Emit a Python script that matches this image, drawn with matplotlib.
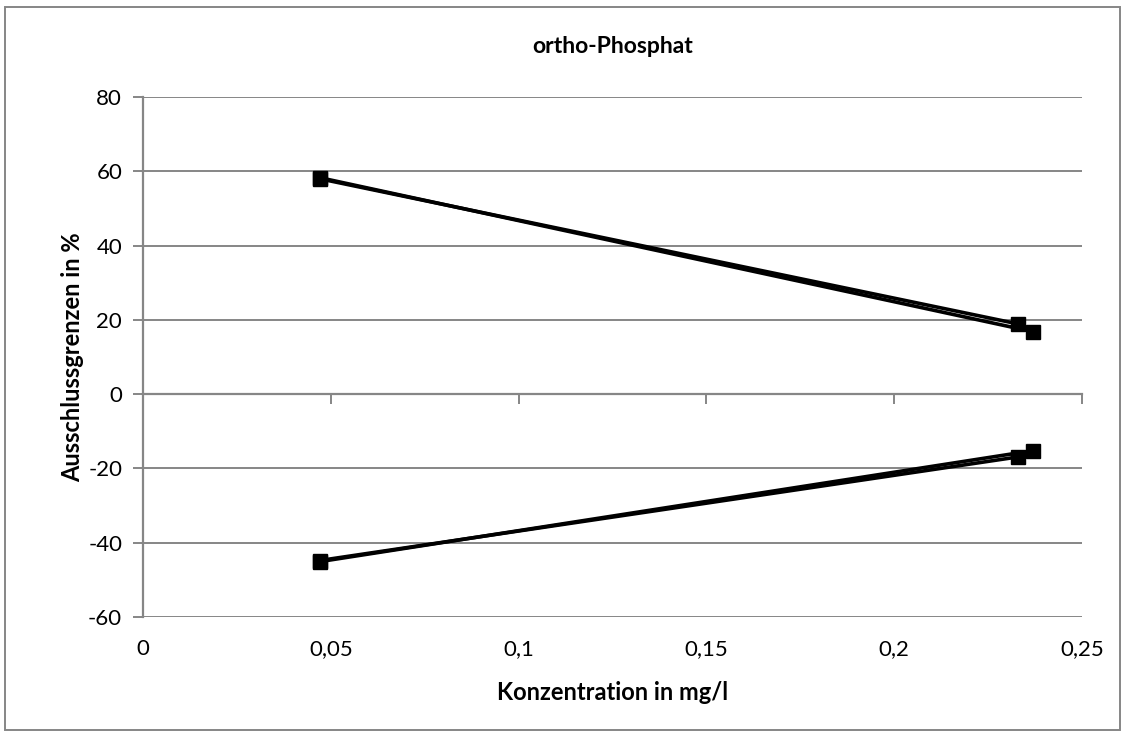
import matplotlib
matplotlib.use("Agg")
import matplotlib.pyplot as plt
from matplotlib.patches import Rectangle

plt.rcParams['font.family'] = ['Lato', 'DejaVu Sans']
plt.rcParams['axes.unicode_minus'] = False

# data: each series is one line with two points
conc_a = [0.047, 0.233]
upper_a = [58.0, 18.9]
conc_b = [0.047, 0.237]
upper_b = [58.3, 16.8]
lower_a = [-44.8, -16.9]
lower_b = [-45.1, -15.2]

x_ticks = [0, 0.05, 0.1, 0.15, 0.2, 0.25]
x_labels = ["0", "0,05", "0,1", "0,15", "0,2", "0,25"]
y_ticks = [-60, -40, -20, 0, 20, 40, 60, 80]

grey = "#868686"

fig = plt.figure(figsize=(11.25, 7.36), dpi=100)
ax = fig.add_axes([143 / 1125, 1 - 617 / 736, (1082 - 143) / 1125, (617 - 97) / 736])

for xs, ys in [(conc_a, upper_a), (conc_b, upper_b), (conc_a, lower_a), (conc_b, lower_b)]:
    ax.plot(xs, ys, color="black", lw=2.6, marker="s", ms=9.5, zorder=3)

ax.set_xlim(0, 0.25)
ax.set_ylim(-60, 80)
ax.set_yticks(y_ticks)
ax.set_xticks(x_ticks)
ax.set_xticklabels(x_labels)
ax.yaxis.grid(True, color=grey, lw=1.4)
ax.set_axisbelow(True)

for s in ["top", "right", "bottom"]:
    ax.spines[s].set_visible(False)
ax.spines["left"].set_color(grey)
ax.spines["left"].set_linewidth(1.6)
ax.tick_params(axis="y", direction="out", length=7, width=1.4, color=grey,
               labelsize=16, pad=8)
ax.tick_params(axis="x", length=0, labelsize=16, pad=16)

# horizontal axis line at y = 0 with its tick marks
sec = ax.secondary_xaxis(60 / 140)
sec.set_xticks(x_ticks)
sec.tick_params(axis="x", direction="out", length=7, width=1.4, color=grey,
                labelbottom=False, labeltop=False, bottom=True, top=False)
sec.spines["bottom"].set_color(grey)
sec.spines["bottom"].set_linewidth(1.6)
sec.xaxis.set_ticks_position("bottom")
sec.set_xticklabels([])

ax.set_title("ortho-Phosphat", fontsize=16.5, fontweight="bold", pad=32)
ax.set_xlabel("Konzentration in mg/l", fontsize=17, fontweight="bold", labelpad=16)
ax.set_ylabel("Ausschlussgrenzen in %", fontsize=17, fontweight="bold", labelpad=3)

fig.patches.append(Rectangle((5 / 1125, 6 / 736), 1115 / 1125, 723 / 736,
                             transform=fig.transFigure, fill=False,
                             edgecolor=grey, lw=1.4))

fig.savefig("out.png", dpi=100)
